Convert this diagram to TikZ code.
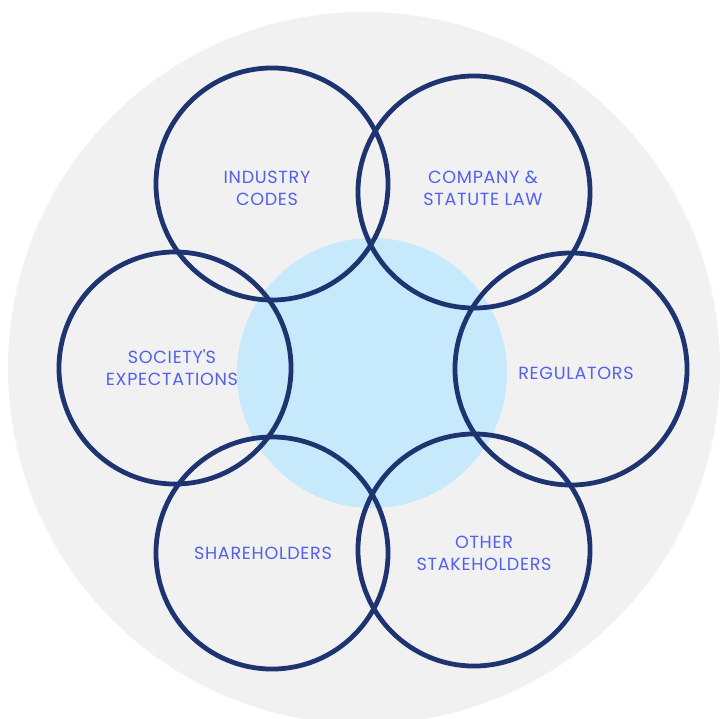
\documentclass[tikz,border=0pt]{standalone}
\usepackage{fontspec}
\setsansfont{Poppins}[LetterSpace=4]

\definecolor{ringblue}{RGB}{30,52,112}
\definecolor{labelblue}{RGB}{82,96,238}
\definecolor{corefill}{RGB}{198,233,252}
\definecolor{backgray}{RGB}{241,241,241}

\begin{document}
\begin{tikzpicture}[x=0.025cm,y=-0.025cm]\sffamily
\def\xmax{720};
\def\ymax{718};

% Page frame, in pixels of the original picture (y runs downwards)
\clip (0,0) rectangle (\xmax,\ymax);

% Style for the six outer rings and for the text inside them
\tikzstyle{ring}=[circle, draw=ringblue, line width=3.4pt, minimum size=5.8cm, inner sep=0pt]
\tikzstyle{ringtext}=[font=\fontsize{12.5}{15.6}\selectfont, text=labelblue, align=center, inner sep=0pt]

% Grey disc behind everything and the light blue core
\fill[backgray] (364,368) circle (356);
\fill[corefill] (372,373) circle (135);

% This command draws a single ring with its text
\newcommand{\drawring}[4]{
% #1 = name of the ring node
% #2 = centre of the ring
% #3 = centre of the text
% #4 = text
\node[ring] (#1) at (#2) {};
\node[ringtext] (#1text) at (#3) {#4};
} % End of definition of `drawring`

% Now draw the 6 rings, going round clockwise from the top left
\drawring{codes}{272,184}{267,188}{INDUSTRY\\CODES}
\drawring{law}{474,192}{483,188}{COMPANY \&\\STATUTE LAW}
\drawring{regulators}{571,369}{576,373}{REGULATORS}
\drawring{others}{474,550}{484,553}{OTHER\\STAKEHOLDERS}
\drawring{shareholders}{272,553}{263,553}{SHAREHOLDERS}
\drawring{society}{175,368}{172,368}{SOCIETY\textquotesingle S\\EXPECTATIONS}

\end{tikzpicture}
\end{document}
